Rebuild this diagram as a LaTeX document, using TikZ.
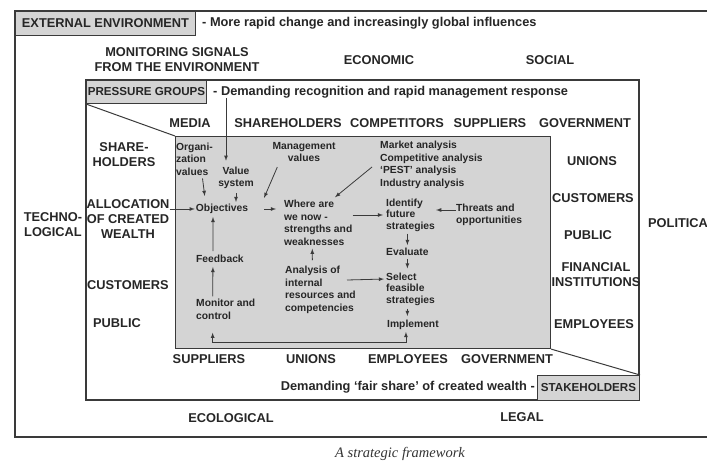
\documentclass[tikz,border=0pt]{standalone}
\usepackage{fontspec}
\setmainfont{Liberation Sans}
\newfontfamily\capserif{Liberation Serif}
\usepackage{tikz}
\definecolor{boxgray}{HTML}{D4D4D4}
\definecolor{inkgray}{HTML}{3A3A3A}

\begin{document}
\begin{tikzpicture}[x=1pt,y=-1pt,>=latex,
    bigtxt/.style={font=\fontsize{12.8}{15}\selectfont\bfseries, align=center, inner sep=0pt, text=black!85},
    smalltxt/.style={font=\fontsize{10.3}{12.5}\selectfont\bfseries, align=left, inner sep=0pt, text=black!85},
    tighttxt/.style={smalltxt, font=\fontsize{10.3}{11.5}\selectfont\bfseries},
    tagbox/.style={draw=inkgray, fill=boxgray, line width=1pt, font=\fontsize{11.6}{14}\selectfont\bfseries, inner sep=0pt, anchor=north west, text=black!85},
    arr/.style={->, line width=0.8pt, draw=inkgray}]
	\useasboundingbox (0,0) rectangle (707,462);
	% frames
	\draw[inkgray, line width=1.1pt] (707,11) -- (15,11) -- (15,437) -- (707,437);
	\draw[inkgray, line width=1.1pt] (86,80) rectangle (639,400);
	\node[draw=inkgray, fill=boxgray, line width=1.1pt, minimum width=375pt, minimum height=212pt, anchor=north west, inner sep=0pt] (core) at (175,136) {};
	\node[tagbox, minimum width=180pt, minimum height=24pt, font=\fontsize{12.8}{15}\selectfont\bfseries] (extenv) at (15,11) {EXTERNAL ENVIRONMENT};
	\node[tagbox, minimum width=120pt, minimum height=23pt] (pressure) at (86,80) {PRESSURE GROUPS};
	\node[tagbox, minimum width=102pt, minimum height=25pt] (stakes) at (537,375) {STAKEHOLDERS};
	\draw[inkgray, line width=1pt] (pressure.south west) -- (core.north west);
	\draw[inkgray, line width=1pt] (core.south east) -- (stakes.north east);
	% outer labels
	\node[bigtxt, anchor=west] (extnote) at (202,23) {- More rapid change and increasingly global influences};
	\node[bigtxt] (signals) at (177,60) {MONITORING SIGNALS\\FROM THE ENVIRONMENT};
	\node[bigtxt] (economic) at (379,60) {ECONOMIC};
	\node[bigtxt] (social) at (550,60) {SOCIAL};
	\node[bigtxt, anchor=west] (pressnote) at (213,92) {- Demanding recognition and rapid management response};
	\node[bigtxt] (media) at (190,123) {MEDIA};
	\node[bigtxt] (shtop) at (288,123) {SHAREHOLDERS};
	\node[bigtxt] (comptop) at (397,123) {COMPETITORS};
	\node[bigtxt] (suptop) at (490,123) {SUPPLIERS};
	\node[bigtxt] (govtop) at (585,123) {GOVERNMENT};
	\node[bigtxt] (shleft) at (124,155) {SHARE-\\HOLDERS};
	\node[bigtxt] (allocation) at (128,219) {ALLOCATION\\OF CREATED\\WEALTH};
	\node[bigtxt] (custleft) at (128,285) {CUSTOMERS};
	\node[bigtxt] (publeft) at (117,323) {PUBLIC};
	\node[bigtxt] (techno) at (53,225) {TECHNO-\\LOGICAL};
	\node[bigtxt] (unions) at (592,161) {UNIONS};
	\node[bigtxt] (custright) at (593,198) {CUSTOMERS};
	\node[bigtxt] (pubright) at (588,235) {PUBLIC};
	\node[bigtxt] (financial) at (596,274.5) {FINANCIAL\\INSTITUTIONS};
	\node[bigtxt] (empright) at (594,324) {EMPLOYEES};
	\node[bigtxt, anchor=west] (political) at (648,223) {POLITICA};
	\node[bigtxt] (supbot) at (209,359) {SUPPLIERS};
	\node[bigtxt] (unbot) at (311,359) {UNIONS};
	\node[bigtxt] (empbot) at (408,359) {EMPLOYEES};
	\node[bigtxt] (govbot) at (507,359) {GOVERNMENT};
	\node[bigtxt, anchor=east] (fairshare) at (535,387) {Demanding ‘fair share’ of created wealth -};
	\node[bigtxt] (ecological) at (231,418) {ECOLOGICAL};
	\node[bigtxt] (legal) at (522,417) {LEGAL};
	\node[font=\capserif\itshape\fontsize{14.5}{16}\selectfont, inner sep=0pt, text=black!80] (caption) at (400,454) {A strategic framework};
	% inside the core box
	\node[smalltxt, anchor=west] (orgval) at (176,159) {Organi-\\zation\\values};
	\node[smalltxt, align=center] (valsys) at (236,178) {Value\\system};
	\node[smalltxt, align=center] (mgmtval) at (304,152) {Management\\values};
	\node[smalltxt, anchor=west] (market) at (380,165) {Market analysis\\Competitive analysis\\‘PEST’ analysis\\Industry analysis};
	\node[smalltxt] (objectives) at (222,209) {Objectives};
	\node[smalltxt, anchor=west] (wherenow) at (284,223) {Where are\\we now -\\strengths and\\weaknesses};
	\node[tighttxt, anchor=west] (identify) at (386,215) {Identify\\future\\strategies};
	\node[smalltxt, anchor=west] (threats) at (456,215) {Threats and\\opportunities};
	\node[smalltxt, anchor=west] (evaluate) at (386,252) {Evaluate};
	\node[tighttxt, anchor=west] (select) at (386,289) {Select\\feasible\\strategies};
	\node[smalltxt, anchor=west] (implement) at (387,325) {Implement};
	\node[smalltxt, anchor=west] (feedback) at (196,259) {Feedback};
	\node[smalltxt, anchor=west] (monitor) at (196,309.5) {Monitor and\\control};
	\node[smalltxt, anchor=west] (analysis) at (285,290) {Analysis of\\internal\\resources and\\competencies};
	\coordinate (mgmtend) at (264,198);
	% arrows
	\draw[arr, shorten >=6pt] ([xshift=13pt]pressnote.south west) -- ([xshift=-10pt]valsys.north);
	\draw[arr, shorten >=1pt] (allocation.east |- objectives.west) -- (objectives.west);
	\draw[arr] ([shift={(8pt,-3pt)}]orgval.south) -- ([shift={(9pt,8pt)}]objectives.north west);
	\draw[arr, shorten <=4pt, shorten >=2pt] (valsys.south) -- (valsys.south |- objectives.north);
	\draw[arr] ([shift={(5pt,-5pt)}]mgmtval.south west) -- (mgmtend);
	\draw[arr, shorten <=16pt, shorten >=8pt] (objectives.east) -- (objectives.east -| wherenow.west);
	\draw[arr] ([shift={(-8pt,-2pt)}]market.west) -- ([shift={(51pt,3pt)}]wherenow.north west);
	\draw[arr, shorten >=3pt] (wherenow.east |- identify.west) -- (identify.west);
	\draw[arr, shorten >=1pt] ([yshift=5pt]threats.west) -- ([yshift=5pt]identify.east);
	\draw[arr, shorten <=2pt, shorten >=3pt] (evaluate.north |- identify.south) -- (evaluate.north);
	\draw[arr, shorten <=3pt, shorten >=4pt] (evaluate.south) -- (evaluate.south |- select.north);
	\draw[arr, shorten <=3pt, shorten >=4pt] (evaluate.south |- select.south) -- (evaluate.south |- implement.north);
	\draw[arr, shorten >=2pt] ([shift={(62pt,10pt)}]analysis.west) -- ([yshift=10pt]select.west);
	\draw[arr, shorten <=6pt, shorten >=3pt] ([xshift=-8pt]analysis.north) -- ([xshift=-6pt]wherenow.south);
	\draw[arr, shorten <=4pt, shorten >=3pt] ([xshift=-7pt]feedback.north) -- ([xshift=-9pt]objectives.south);
	\draw[arr, shorten <=3pt, shorten >=4pt] ([xshift=-13pt]monitor.north) -- ([xshift=-7pt]feedback.south);
	\draw[arr, <->] ([shift={(-13pt,-13pt)}]monitor.south) -- ++(0,10) -| ([shift={(-7pt,-2pt)}]implement.south);
\end{tikzpicture}
\end{document}
